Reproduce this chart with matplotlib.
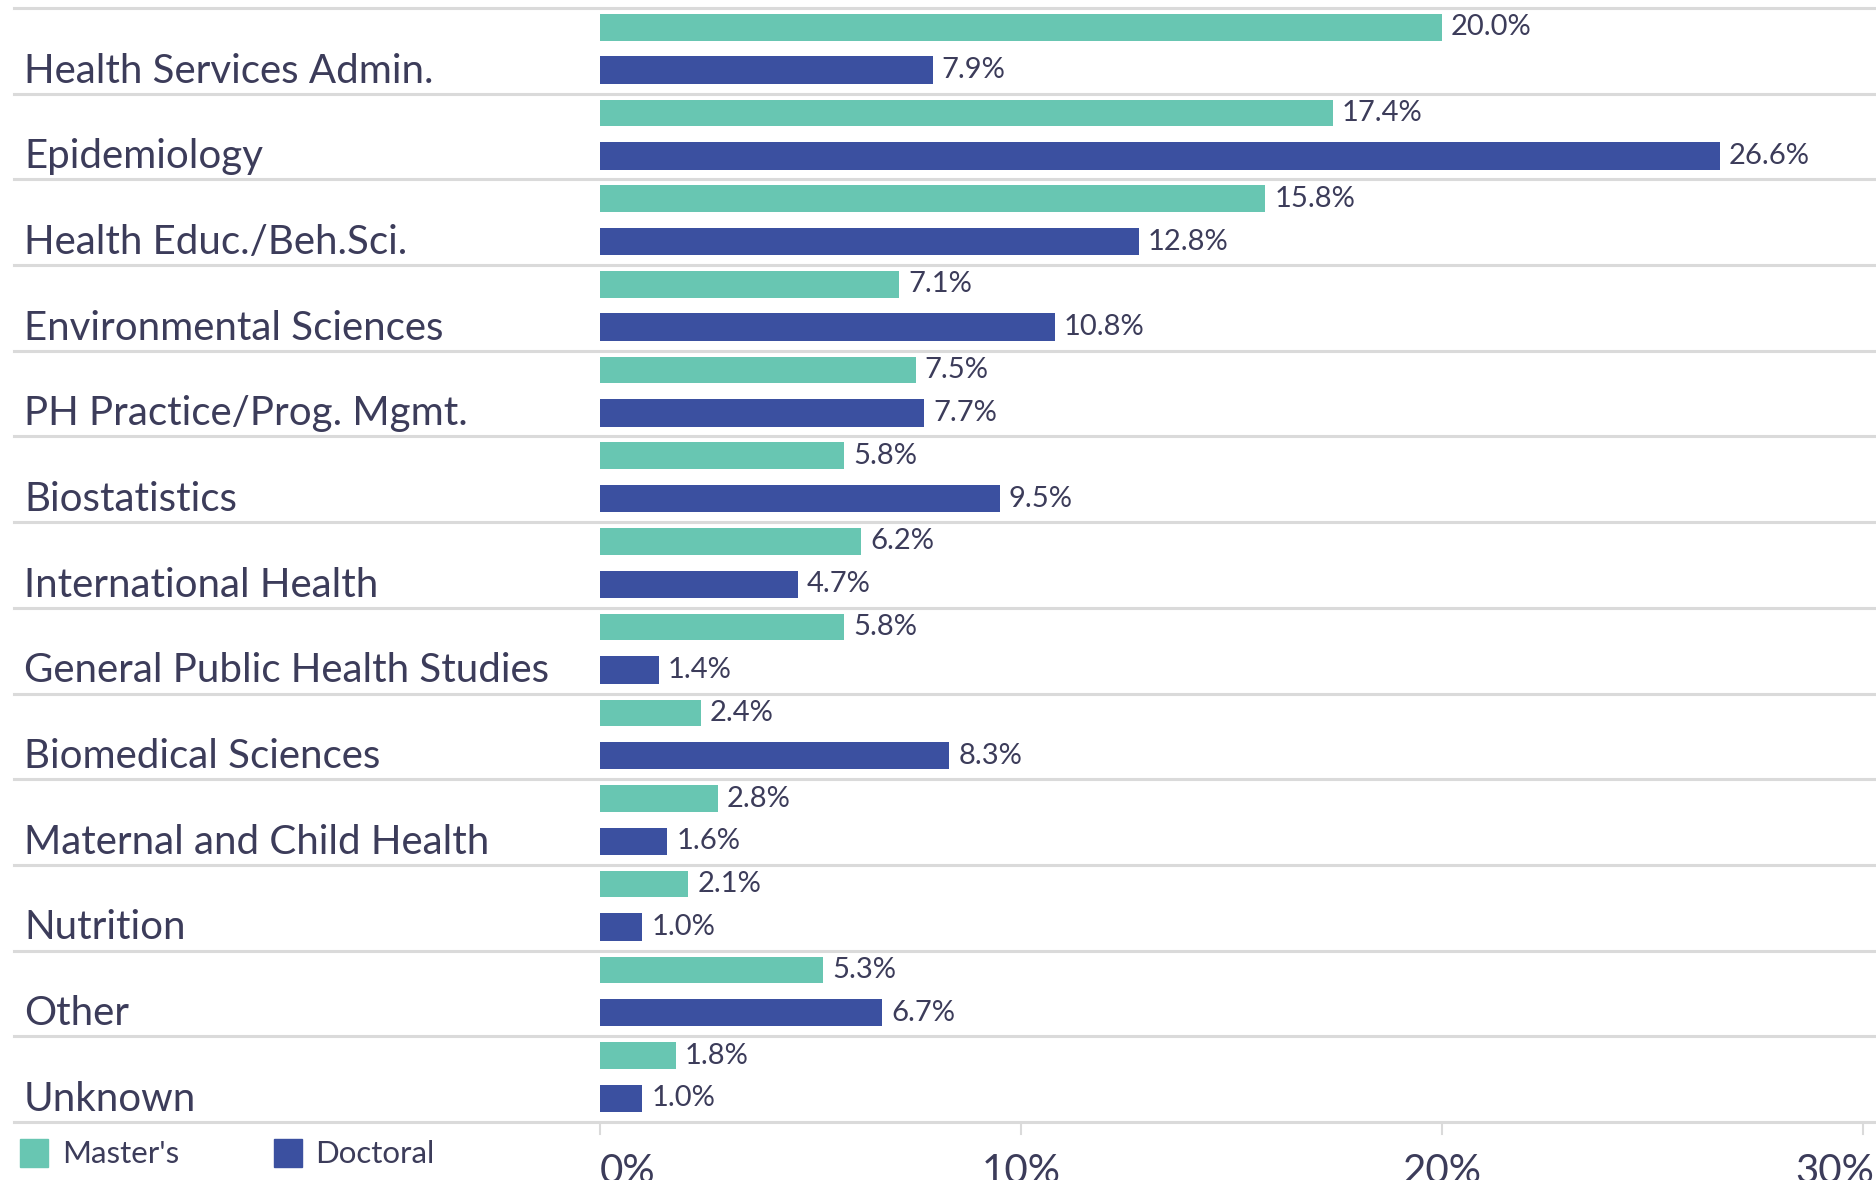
import matplotlib
matplotlib.use("Agg")
import matplotlib.pyplot as plt
import matplotlib.transforms as mtransforms
from matplotlib.patches import Rectangle

categories = [
    "Health Services Admin.", "Epidemiology", "Health Educ./Beh.Sci.",
    "Environmental Sciences", "PH Practice/Prog. Mgmt.", "Biostatistics",
    "International Health", "General Public Health Studies",
    "Biomedical Sciences", "Maternal and Child Health", "Nutrition",
    "Other", "Unknown",
]
masters = [20.0, 17.4, 15.8, 7.1, 7.5, 5.8, 6.2, 5.8, 2.4, 2.8, 2.1, 5.3, 1.8]
doctoral = [7.9, 26.6, 12.8, 10.8, 7.7, 9.5, 4.7, 1.4, 8.3, 1.6, 1.0, 6.7, 1.0]
xticks = [0, 10, 20, 30]
xtick_labels = ["0%", "10%", "20%", "30%"]
series_names = ["Master's", "Doctoral"]

TEAL = "#68c6b2"
BLUE = "#3b50a0"
TEXT = "#3c3c5a"
GRID = "#dadada"
FONT = ["Lato", "DejaVu Sans"]

W, H = 1876, 1180
fig = plt.figure(figsize=(W / 100, H / 100), dpi=100)

# plot area in pixels: x 600..1863 (0..30%), y 8..1122 (13 rows)
x0, x1, ytop, ybot = 600, 1863, 8, 1122
ax = fig.add_axes([x0 / W, 1 - ybot / H, (x1 - x0) / W, (ybot - ytop) / H])
n = len(categories)
ax.set_xlim(0, 30)
ax.set_ylim(n, 0)
ax.axis("off")

fig_x = mtransforms.blended_transform_factory(fig.transFigure, ax.transData)

rows = range(n)
ax.barh([i + 0.225 for i in rows], masters, height=0.31, color=TEAL, zorder=2)
ax.barh([i + 0.725 for i in rows], doctoral, height=0.32, color=BLUE, zorder=2)

for i in rows:
    ax.annotate(f"{masters[i]:.1f}%", (masters[i], i + 0.225), xytext=(6.5, 0),
                textcoords="offset points", va="center", ha="left",
                fontsize=21, color=TEXT, family=FONT)
    ax.annotate(f"{doctoral[i]:.1f}%", (doctoral[i], i + 0.725), xytext=(6.5, 0),
                textcoords="offset points", va="center", ha="left",
                fontsize=21, color=TEXT, family=FONT)
    ax.text(24 / W, i + 0.87, categories[i], transform=fig_x, ha="left",
            va="baseline", fontsize=29, color=TEXT, family=FONT)

# row separators
for i in range(n + 1):
    ax.plot([14 / W, 1], [i, i], transform=fig_x, color=GRID, lw=2.2,
            clip_on=False, zorder=1)

# x ticks and labels below the axis line
tick_tr = mtransforms.blended_transform_factory(ax.transData, fig.transFigure)
for t, lab in zip(xticks, xtick_labels):
    ax.plot([t, t], [1 - 1124 / H, 1 - 1134 / H], transform=tick_tr,
            color=GRID, lw=1.5, clip_on=False)
    if t == xticks[0]:
        ax.text(t, 1 - 1183 / H, lab, transform=tick_tr, ha="left",
                va="baseline", fontsize=29, color=TEXT, family=FONT)
    elif t == xticks[-1]:
        fig.text(1874 / W, 1 - 1183 / H, lab, ha="right", va="baseline",
                 fontsize=29, color=TEXT, family=FONT)
    else:
        ax.text(t, 1 - 1183 / H, lab, transform=tick_tr, ha="center",
                va="baseline", fontsize=29, color=TEXT, family=FONT)

# legend
for (lx, tx), name, col in zip([(20, 62), (274, 315)], series_names, [TEAL, BLUE]):
    fig.patches.append(Rectangle((lx / W, 1 - 1167 / H), 28 / W, 28 / H,
                                 transform=fig.transFigure, color=col))
    fig.text(tx / W, 1 - 1163 / H, name, ha="left", va="baseline",
             fontsize=22.5, color=TEXT, family=FONT)

fig.savefig("out.png", dpi=100)
